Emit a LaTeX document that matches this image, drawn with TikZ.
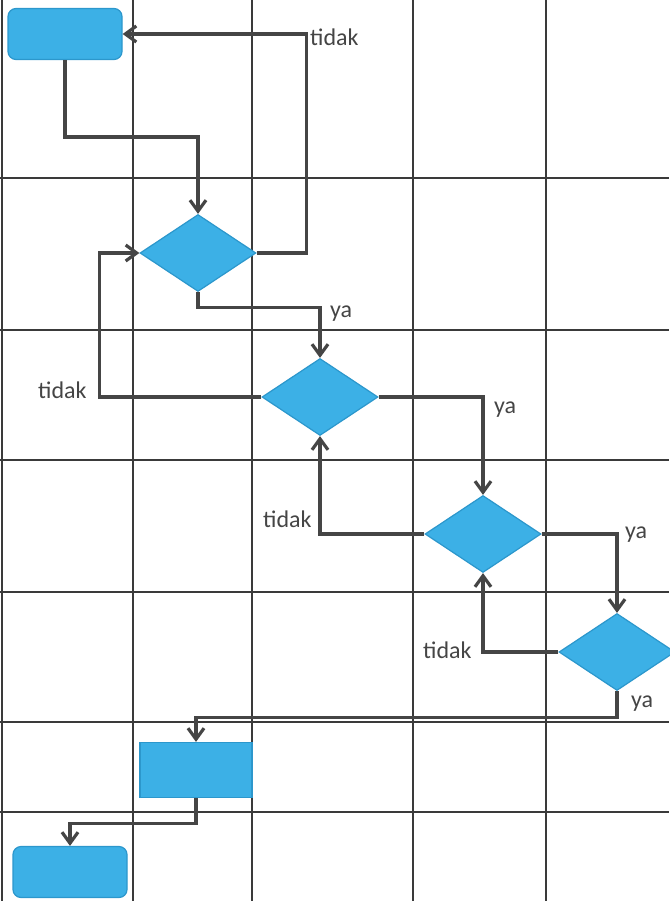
\documentclass[tikz,border=0pt]{standalone}
\usepackage{fontspec}
\setmainfont{Carlito}
\usetikzlibrary{arrows.meta,shapes.geometric}
\definecolor{SkyFill}{HTML}{3CB0E6}
\definecolor{SkyEdge}{HTML}{2C97CC}
\definecolor{GridGray}{HTML}{3A3A3A}
\definecolor{FlowGray}{HTML}{454545}

\begin{document}
\begin{tikzpicture}[x=1pt,y=-1pt,
    termbox/.style={draw=SkyEdge,fill=SkyFill,rounded corners=8pt,minimum width=114pt,minimum height=51pt,inner sep=0pt,line width=1.2pt},
    procbox/.style={draw=SkyEdge,fill=SkyFill,minimum width=112pt,minimum height=55pt,inner sep=0pt,line width=1.2pt},
    decbox/.style={diamond,draw=SkyEdge,fill=SkyFill,minimum width=116pt,minimum height=77pt,inner sep=0pt,line width=1.2pt},
    flow/.style={draw=FlowGray,line width=3.2pt,-{Straight Barb[length=11pt,width=16pt]}},
    lbl/.style={font=\fontsize{24}{28}\selectfont,text=FlowGray,anchor=base west,inner sep=0pt}]
    \useasboundingbox (0,0) rectangle (669,901);
    \foreach \x in {2,133,252,413,546}
      \draw[GridGray,line width=2pt] (\x,0) -- (\x,901);
    \foreach \y in {178,330,460,592,722,812}
      \draw[GridGray,line width=2pt] (0,\y) -- (669,\y);
    \node[termbox] (start) at (65,34) {};
    \node[decbox] (dec1) at (198,253) {};
    \node[decbox] (dec2) at (320,397) {};
    \node[decbox] (dec3) at (483,534) {};
    \node[decbox] (dec4) at (617,652) {};
    \node[procbox] (proc) at (196,770) {};
    \node[termbox] (stop) at (70,872) {};
    \draw[flow] (start.south) -- ++(0,77) -| (dec1.north);
    \draw[flow] (dec1.east) -- ++(50,0) |- (start.east);
    \draw[flow] (dec1.south) -- ++(0,15) -| (dec2.north);
    \draw[flow] (dec2.west) -- ++(-162,0) |- (dec1.west);
    \draw[flow] (dec2.east) -| (dec3.north);
    \draw[flow] (dec3.west) -| (dec2.south);
    \draw[flow] (dec3.east) -| (dec4.north);
    \draw[flow] (dec4.west) -| (dec3.south);
    \draw[flow] (dec4.south) -- ++(0,26) -| (proc.north);
    \draw[flow] (proc.south) -- ++(0,25) -| (stop.north);
    \node[lbl] (tidak1) at (310,46) {tidak};
    \node[lbl] (ya1) at (330,317) {ya};
    \node[lbl] (tidak2) at (38,398) {tidak};
    \node[lbl] (ya2) at (494,413) {ya};
    \node[lbl] (tidak3) at (263,527) {tidak};
    \node[lbl] (ya3) at (625,538) {ya};
    \node[lbl] (tidak4) at (423,658) {tidak};
    \node[lbl] (ya4) at (631,707) {ya};
  \end{tikzpicture}
\end{document}
